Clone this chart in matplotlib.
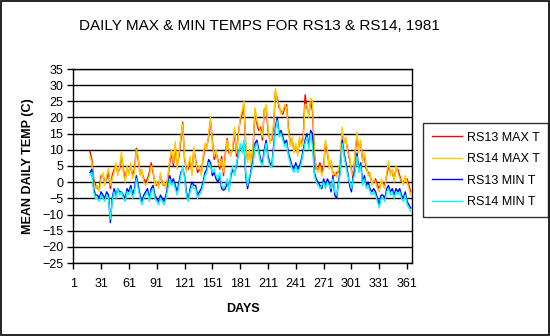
import matplotlib
matplotlib.use("Agg")
import matplotlib.pyplot as plt
from matplotlib.patches import Rectangle

plt.rcParams["font.family"] = ["Liberation Sans", "DejaVu Sans"]

# every other day, day 19 to day 365
days = list(range(19, 366, 2))

rs13_max = [
    9.5, 7, 1, -1, -2, -2, 2, 2, 0, 1, 3, -2, 2, 4, 5, 3, 4, 8, 4, 1, 4, 3, 5, 2, 4, 10.5, 7, 3, 3, 1,
    0, 1, 3, 6, 3, 0, -1, -1, 2, 0, -1, -1, 1, 6, 9, 5, 11, 5, 8, 13, 18.5, 7, 4, 4, 7, 3, 10, 7, 3, 4,
    3, 7, 11, 11, 14, 19, 13, 7, 9, 7, 4, 8, 2, 9, 13.5, 9, 9, 10, 16, 8, 15, 19, 21, 24, 11, 7, 9, 6, 11, 22,
    18, 16, 17, 13, 22.5, 23, 16, 13, 13, 17, 28, 26, 23, 22, 21, 23, 24, 17, 12, 13, 10, 11, 9, 13, 12, 14, 27, 23, 21, 25,
    22, 9, 4, 4, 6, 3, 5, 12, 9, 5, 6, 3, 2, 3, 3, 6, 15, 13, 13, 10, 7, 4, 1, 9, 14, 10, 12, 7, 8, 4,
    3, 2, 0, 0, 1, -1, -2, 0, 0, -1, 2, 5, 3, 3, 1, 4, 4, 2, 0, 0, 1, 1, -1, -3,
]
rs14_max = [
    8, 6, 0, -2, -1, -3, 1, 3, -1, 2, 4.5, -1, 1, 3, 6, 2, 5, 9.5, 3, 0, 5, 2, 6, 1, 3, 10, 8, 2, 4, 0,
    -1, 0, 2, 5, 4, -1, 0, -2, 3, -1, 0, -2, 2, 7, 10, 6, 12.5, 4, 9, 14, 18, 8, 3, 5, 8, 2, 11, 6, 4, 5,
    2, 8, 12, 10, 15, 20, 12, 8, 10, 6, 5, 7, 3, 8, 13, 10, 8, 11, 17, 9, 14, 20, 22, 25, 12, 6, 10, 5, 12, 23,
    19, 17, 16, 14, 22, 24, 17, 12, 14, 18, 29, 25, 24, 21, 22, 24, 23, 16, 11, 14, 9, 12, 8, 14, 11, 13, 24, 24, 20, 26,
    25, 8, 5, 3, 5, 2, 4, 13, 10, 4, 7, 2, 3, 1.5, 4, 7, 17, 12, 14, 9, 8, 3, 2, 10, 15.5, 9, 13, 6, 9, 5,
    2, 3, -1, 1, 0, -2, -3, 1, -1, -2, 3, 6.5, 2, 4, 0, 5, 3, 1, 1, -1, 2, 0, -2, -4,
]
rs13_min = [
    3, 4, -2, -4, -4, -5, -3, -4, -5, -3, -4, -12.5, -5, -2, -4, -2, -3, -3, -4, -5, -2, -3, -1, -4, -2, 2, -1, -4, -6, -4,
    -3, -2, -5, -2, -1, -4, -5, -6, -4, -5, -6, -4, -1, 2, 0, 1, -1, -3, 0, 3, 4, 2, -3, -5.5, -2, 0, -1, -1, -4, -3,
    -2, 0, 3, 4, 7, 6, 2, 3, 1, 0, 2, -2, -2.5, -2, 0, -2, 2, 4, 3, 5, 9, 11, 10, 12, 2, -2, 1, 4, 7, 12,
    13, 10, 7, 6, 10, 13, 8, 6, 5, 11, 17, 20, 15, 16, 14, 12, 13, 9, 7, 5, 4, 6, 4, 5, 7, 10, 13, 15, 11, 16,
    15, 3, 1, 0, -1, -2, 1, -1, 1, 0, -3, 2, -4, -5, 0, 4, 13, 9, 6, 3, -1, -3, 2, 4, 9, 4, 6, 0, 2, -1,
    0, -2, -3, -2, -3, -5, -7, -4, -4, -5, -2, -1, -3, -2, -4, -2, -3, -2, -4, -5, -3, -6, -7, -8,
]
rs14_min = [
    2, 3, -3, -5, -5, -6, -4, -5, -6, -4, -5, -11.5, -6, -3, -5, -2, -4, -3, -5, -6, -3, -4, -2, -5, -3, 1, -2, -5, -7, -5,
    -4, -3, -6, -3, -2, -5, -6, -7, -5, -6, -7, -5, -2, 1, -1, 0, -2, -4, -1, 2, 5, 1, -4, -6, -3, -1, -2, -2, -5, -4,
    -3, -1, 2, 3, 6, 5, 3, 4, 2, 1, 3, -1, -2, -1, 1, -3, 3, 5, 2, 6, 8, 12, 9, 13, 3, -1, 2, 3, 6, 11,
    12, 9, 6, 5, 9, 12, 7, 5, 4.5, 10, 16, 19, 14, 15, 13, 11, 12, 8, 6, 4, 3, 5, 3, 4, 6, 9, 12, 14, 10, 15,
    11, 2, 0, -1, -2, -1, 0, -2, 0, -1, -2, 1, -3, -4, -1, 3, 12, 8, 5, 2, 0, -2, 1, 3, 8, 3, 5, -1, 1, -2,
    -1, -3, -4, -3, -4, -6, -8, -5, -5, -6, -3, -2, -4, -3, -5, -3, -4, -3, -5, -6, -4, -7, -8, -9,
]

series = [
    ("RS13 MAX T", rs13_max, "#FF0000"),
    ("RS14 MAX T", rs14_max, "#FFCC00"),
    ("RS13 MIN T", rs13_min, "#0000FF"),
    ("RS14 MIN T", rs14_min, "#00FFFF"),
]
xticks = list(range(1, 366, 30))
yticks = list(range(-25, 36, 5))

fig = plt.figure(figsize=(5.5, 3.36), dpi=100)
ax = fig.add_axes([73 / 550, 1 - 263 / 336, 339 / 550, 194 / 336])

lines = []
for name, vals, col in series:
    ln, = ax.plot(days, vals, color=col, linewidth=1.0, label=name)
    lines.append(ln)

ax.set_xlim(0.7, 366.3)
ax.set_ylim(-25, 35)
ax.set_xticks(xticks)
ax.set_yticks(yticks)
ax.yaxis.grid(True, color="black", linewidth=1.0)
ax.set_axisbelow(True)
ax.tick_params(direction="out", length=4, width=1, color="black", labelsize=9, pad=3)
ax.tick_params(axis="x", pad=7)
for sp in ax.spines.values():
    sp.set_color("black")
    sp.set_linewidth(1.0)

ax.set_xlabel("DAYS", fontsize=9, fontweight="bold", labelpad=9)
ax.set_ylabel("MEAN DAILY TEMP (C)", fontsize=9, fontweight="bold", labelpad=6)
fig.text(259 / 550, 1 - 26 / 336, "DAILY MAX & MIN TEMPS FOR RS13 & RS14, 1981",
         ha="center", va="center", fontsize=11)

leg = fig.legend(handles=lines, loc="upper left",
                 bbox_to_anchor=(423 / 550, 1 - 123 / 336),
                 fontsize=9, frameon=True, fancybox=False, handlelength=2.4,
                 handletextpad=0.4, borderpad=0.7, labelspacing=0.75,
                 borderaxespad=0)
leg.get_frame().set_edgecolor("black")
leg.get_frame().set_linewidth(1.0)

fig.patches.append(Rectangle((0.001, 0.002), 0.997, 0.996, transform=fig.transFigure,
                             fill=False, edgecolor="black", linewidth=1.2))

fig.savefig("out.png", dpi=100)
